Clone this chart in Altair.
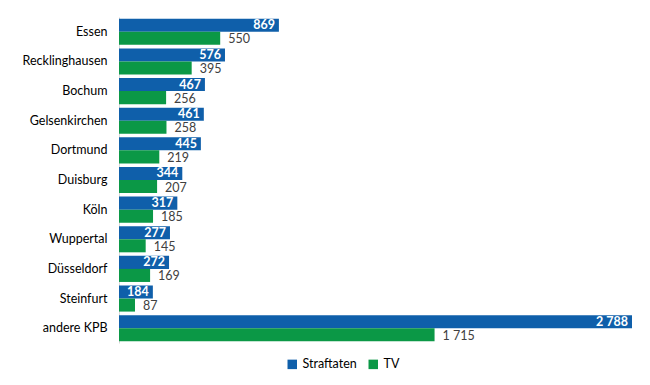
import altair as alt
import pandas as pd

cities = ["Essen", "Recklinghausen", "Bochum", "Gelsenkirchen", "Dortmund", "Duisburg",
          "Köln", "Wuppertal", "Düsseldorf", "Steinfurt", "andere KPB"]
straftaten = [869, 576, 467, 461, 445, 344, 317, 277, 272, 184, 2788]
tv = [550, 395, 256, 258, 219, 207, 185, 145, 169, 87, 1715]
series = ["Straftaten", "TV"]
colors = ["#0F5FAA", "#0B9846"]


def fmt(v):
    return f"{v:,}".replace(",", " ")


rows = []
for c, s, t in zip(cities, straftaten, tv):
    rows.append({"city": c, "series": series[0], "value": s, "label": fmt(s)})
    rows.append({"city": c, "series": series[1], "value": t, "label": fmt(t)})
df = pd.DataFrame(rows)

FONT = "Lato"

y_enc = alt.Y("city:N", sort=cities,
              scale=alt.Scale(paddingInner=0.12, paddingOuter=0.06),
              axis=alt.Axis(title=None, ticks=False, labelFontSize=12.5, labelColor="#000000",
                            labelFont=FONT, labelPadding=12, domainColor="#D9D9D9",
                            domainWidth=1, grid=False))
x_enc = alt.X("value:Q", scale=alt.Scale(domain=[0, 2788], nice=False), axis=None)
yoff = alt.YOffset("series:N", sort=series, scale=alt.Scale(paddingInner=0, paddingOuter=0))

base = alt.Chart(df)

bars = base.mark_bar().encode(
    y=y_enc, x=x_enc, yOffset=yoff,
    color=alt.Color("series:N", sort=series,
                    scale=alt.Scale(domain=series, range=colors),
                    legend=alt.Legend(title=None, orient="none", direction="horizontal",
                                      legendX=167, legendY=341, symbolType="square",
                                      symbolSize=90, labelFontSize=12.5, labelFont=FONT,
                                      labelColor="#000000", columnPadding=10,
                                      symbolStrokeWidth=0)),
)

lab_blue = base.transform_filter(alt.datum.series == "Straftaten").mark_text(
    align="right", baseline="middle", dx=-4, color="#FFFFFF", fontWeight="bold",
    fontSize=12.5, font=FONT
).encode(y=y_enc, x=x_enc, yOffset=yoff, text="label:N")

lab_green = base.transform_filter(alt.datum.series == "TV").mark_text(
    align="left", baseline="middle", dx=8, dy=1, color="#404040", fontSize=12.5, font=FONT
).encode(y=y_enc, x=x_enc, yOffset=yoff, text="label:N")

chart = alt.layer(bars, lab_blue, lab_green).properties(
    width=513, height=326,
    background="#FFFFFF",
    autosize=alt.AutoSizeParams(type="none"),
    padding={"left": 111, "top": 9, "right": 10, "bottom": 31},
).configure_view(strokeWidth=0, stroke=None)

chart.save("out.html", embed_options={"renderer": "svg", "actions": False})
